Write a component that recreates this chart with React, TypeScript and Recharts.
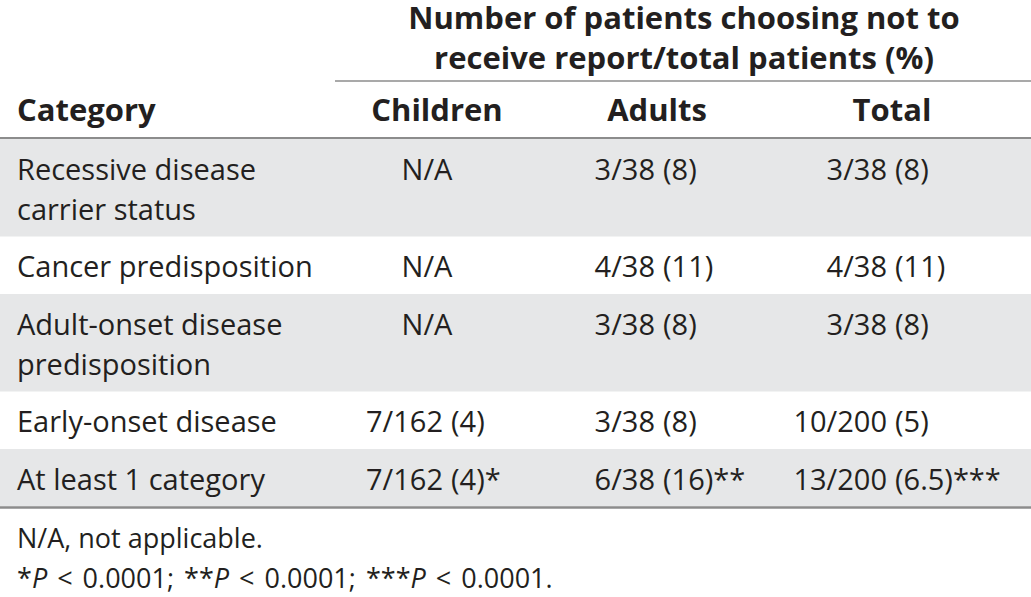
import React from 'react';
import {ComposedChart, XAxis, YAxis, Scatter, ReferenceArea, ReferenceLine} from 'recharts';

// table content
const groupHeader = ['Number of patients choosing not to', 'receive report/total patients (%)'];
const columnHeaders = ['Category', 'Children', 'Adults', 'Total'];
const categories = [
  ['Recessive disease', 'carrier status'],
  ['Cancer predisposition'],
  ['Adult-onset disease', 'predisposition'],
  ['Early-onset disease'],
  ['At least 1 category'],
];
const children = ['N/A', 'N/A', 'N/A', '7/162 (4)', '7/162 (4)*'];
const adults = ['3/38 (8)', '4/38 (11)', '3/38 (8)', '3/38 (8)', '6/38 (16)**'];
const total = ['3/38 (8)', '4/38 (11)', '3/38 (8)', '10/200 (5)', '13/200 (6.5)***'];
const footnotes = ['N/A, not applicable.', '*P < 0.0001; **P < 0.0001; ***P < 0.0001.'];

const W = 1031;
const H = 597;
const TEXT = '#231f20';
const RULE = '#8c8c8c';
const BAND = '#e6e7e8';
const FONT = '"Open Sans", "Noto Sans", sans-serif';

// layout
const BODY_TOP = 139;
const LINE = 40;
const PAD = 17.5;
const BASE = 32;
const CAT_X = 17;
const HEAD_CENTER = [0, 437, 657, 892];
const ALIGN_X = [0, 447, 659, 891]; // split point between fraction and (%)
const NA_CENTER = 427;
const GAP = 4;

type Cell = {x: number; y: number; text: string; anchor: string; weight?: number; size?: number; italicP?: boolean};

const rowTops: number[] = [];
let acc = BODY_TOP;
categories.forEach(lines => {
  rowTops.push(acc);
  acc += lines.length * LINE + PAD;
});
const bodyBottom = acc;

const cells: Cell[] = [];
groupHeader.forEach((t, i) => cells.push({x: 684, y: 29 + i * LINE, text: t, anchor: 'middle', weight: 700, size: 31}));
columnHeaders.forEach((t, i) =>
  cells.push(i === 0
    ? {x: CAT_X, y: 121, text: t, anchor: 'start', weight: 700, size: 31}
    : {x: HEAD_CENTER[i], y: 121, text: t, anchor: 'middle', weight: 700, size: 31}));

categories.forEach((lines, r) => {
  const y0 = rowTops[r] + PAD / 2 + BASE;
  lines.forEach((t, k) => cells.push({x: CAT_X, y: y0 + k * LINE, text: t, anchor: 'start'}));
  [children, adults, total].forEach((col, c) => {
    const v = col[r];
    const cut = v.indexOf(' (');
    if (cut < 0) {
      cells.push({x: NA_CENTER, y: y0, text: v, anchor: 'middle'});
    } else {
      cells.push({x: ALIGN_X[c + 1] - GAP, y: y0, text: v.slice(0, cut), anchor: 'end'});
      cells.push({x: ALIGN_X[c + 1] + GAP, y: y0, text: v.slice(cut + 1), anchor: 'start'});
    }
  });
});

footnotes.forEach((t, i) => cells.push({x: CAT_X, y: 548 + i * LINE, text: t, anchor: 'start', size: 27, italicP: t.includes('P')}));

const renderCell = (props: any) => {
  const {cx, cy, payload} = props;
  const c: Cell = payload;
  let content: React.ReactNode = c.text;
  if (c.italicP) {
    const parts = c.text.split('P');
    content = parts.map((p, i) => (
      <React.Fragment key={i}>
        {i > 0 && <tspan fontStyle="italic">P</tspan>}
        {p}
      </React.Fragment>
    ));
  }
  return (
    <text x={cx} y={cy} textAnchor={c.anchor as any} fontSize={c.size || 29} fontWeight={c.weight || 400}
          fill={TEXT} fontFamily={FONT} wordSpacing={c.italicP ? 3 : 0} style={{whiteSpace: 'pre'}}>
      {content}
    </text>
  );
};

export default function App() {
  return (
    <div style={{width: W, height: H, background: '#fff', fontFamily: FONT}}>
      <style>{'body{margin:0}'}</style>
      <ComposedChart width={W} height={H} margin={{top: 0, right: 0, bottom: 0, left: 0}}>
        <XAxis type="number" dataKey="x" domain={[0, W]} hide allowDataOverflow />
        <YAxis type="number" dataKey="y" domain={[0, H]} reversed hide allowDataOverflow />
        {categories.map((_, r) => r % 2 === 0 && (
          <ReferenceArea key={`band-${r}`} x1={0} x2={W} y1={rowTops[r]}
                         y2={r + 1 < rowTops.length ? rowTops[r + 1] : bodyBottom}
                         fill={BAND} fillOpacity={1} stroke="none" />
        ))}
        <ReferenceLine segment={[{x: 335, y: 81}, {x: W, y: 81}]} stroke={RULE} strokeWidth={1.5} />
        <ReferenceLine y={BODY_TOP - 1} stroke={RULE} strokeWidth={2} />
        <ReferenceLine y={bodyBottom + 1} stroke={RULE} strokeWidth={2.5} />
        <Scatter data={cells} shape={renderCell} isAnimationActive={false} />
      </ComposedChart>
    </div>
  );
}
